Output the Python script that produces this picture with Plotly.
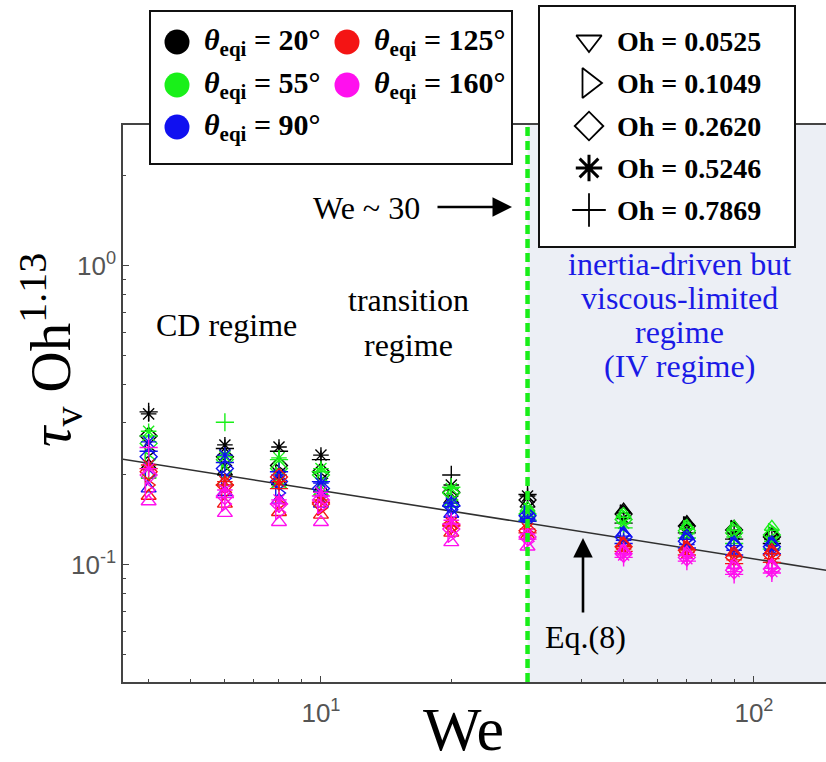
import math
import plotly.graph_objects as go

# ---------------- data ----------------
we = [4, 6, 8, 10, 20, 30, 50, 70, 90, 110]

theta_labels = ["20°", "55°", "90°", "125°", "160°"]
theta_colors = ["#000000", "#19f019", "#1010f0", "#f41414", "#ff10ee"]
oh_labels = ["0.0525", "0.1049", "0.2620", "0.5246", "0.7869"]

# tau_v * Oh^1.13, one list per (theta, Oh), values along `we`
t20_oh1 = [0.215, 0.205, 0.190, 0.180, 0.165, 0.160, 0.153, 0.139, 0.134, 0.128]
t20_oh2 = [0.240, 0.215, 0.205, 0.195, 0.170, 0.162, 0.150, 0.137, 0.133, 0.126]
t20_oh3 = [0.270, 0.230, 0.215, 0.205, 0.175, 0.165, 0.148, 0.135, 0.131, 0.124]
t20_oh4 = [0.320, 0.252, 0.248, 0.233, 0.185, 0.170, 0.143, 0.132, 0.127, 0.122]
t20_oh5 = [0.325, 0.245, 0.240, 0.225, 0.200, 0.172, 0.138, 0.128, 0.122, 0.118]

t55_oh1 = [0.200, 0.190, 0.185, 0.175, 0.160, 0.155, 0.148, 0.135, 0.134, 0.134]
t55_oh2 = [0.225, 0.205, 0.200, 0.190, 0.165, 0.152, 0.145, 0.133, 0.131, 0.130]
t55_oh3 = [0.255, 0.225, 0.210, 0.200, 0.174, 0.148, 0.142, 0.130, 0.128, 0.126]
t55_oh4 = [0.280, 0.230, 0.228, 0.210, 0.180, 0.145, 0.138, 0.127, 0.124, 0.120]
t55_oh5 = [0.270, 0.300, 0.225, 0.205, 0.182, 0.141, 0.133, 0.123, 0.118, 0.113]

t90_oh1 = [0.180, 0.175, 0.165, 0.160, 0.148, 0.145, 0.128, 0.125, 0.119, 0.119]
t90_oh2 = [0.200, 0.195, 0.174, 0.170, 0.153, 0.149, 0.126, 0.122, 0.117, 0.117]
t90_oh3 = [0.230, 0.210, 0.190, 0.180, 0.158, 0.146, 0.124, 0.120, 0.115, 0.115]
t90_oh4 = [0.258, 0.233, 0.200, 0.188, 0.161, 0.143, 0.121, 0.117, 0.112, 0.112]
t90_oh5 = [0.240, 0.220, 0.205, 0.190, 0.157, 0.140, 0.118, 0.114, 0.108, 0.109]

t125_oh1 = [0.170, 0.160, 0.150, 0.147, 0.128, 0.125, 0.118, 0.115, 0.110, 0.112]
t125_oh2 = [0.185, 0.175, 0.160, 0.155, 0.133, 0.128, 0.117, 0.114, 0.108, 0.110]
t125_oh3 = [0.205, 0.185, 0.197, 0.160, 0.136, 0.130, 0.115, 0.112, 0.106, 0.108]
t125_oh4 = [0.216, 0.190, 0.190, 0.165, 0.138, 0.132, 0.113, 0.110, 0.104, 0.105]
t125_oh5 = [0.210, 0.185, 0.180, 0.162, 0.135, 0.128, 0.111, 0.108, 0.101, 0.102]

t160_oh1 = [0.163, 0.149, 0.139, 0.139, 0.119, 0.115, 0.112, 0.110, 0.100, 0.100]
t160_oh2 = [0.178, 0.160, 0.150, 0.157, 0.126, 0.120, 0.110, 0.108, 0.098, 0.098]
t160_oh3 = [0.200, 0.170, 0.160, 0.165, 0.132, 0.124, 0.109, 0.106, 0.096, 0.097]
t160_oh4 = [0.210, 0.178, 0.165, 0.175, 0.141, 0.127, 0.108, 0.105, 0.095, 0.095]
t160_oh5 = [0.247, 0.168, 0.160, 0.170, 0.137, 0.122, 0.106, 0.103, 0.093, 0.094]

series = [
    [t20_oh1, t20_oh2, t20_oh3, t20_oh4, t20_oh5],
    [t55_oh1, t55_oh2, t55_oh3, t55_oh4, t55_oh5],
    [t90_oh1, t90_oh2, t90_oh3, t90_oh4, t90_oh5],
    [t125_oh1, t125_oh2, t125_oh3, t125_oh4, t125_oh5],
    [t160_oh1, t160_oh2, t160_oh3, t160_oh4, t160_oh5],
]

# Eq.(8) fit line end points
fit_we = [3.4, 150]
fit_val = [0.227, 0.0955]

we_threshold = 30

x_range = [3.49, 146.7]
y_range = [0.0406, 2.96]
x_ticks = [10, 100]
x_ticktext = ["10<sup>1</sup>", "10<sup>2</sup>"]
y_ticks = [0.1, 1]
y_ticktext = ["10<sup>-1</sup>", "10<sup>0</sup>"]
x_minor = [4, 5, 6, 7, 8, 9, 20, 30, 40, 50, 60, 70, 80, 90, 200]
y_minor = [0.05, 0.06, 0.07, 0.08, 0.09, 0.2, 0.3, 0.4, 0.5, 0.6, 0.7, 0.8, 0.9, 2]

# ---------------- figure ----------------
W, H = 826, 762
PL, PR, PT, PB = 123, 826, 125, 682   # plot area in pixels

data_symbols = ["triangle-up-open", "triangle-right-open", "diamond-open",
                "asterisk-open", "cross-thin-open"]
legend_symbols = ["triangle-down-open", "triangle-right-open", "diamond-open",
                  "asterisk-open", "cross-thin-open"]

fig = go.Figure()

# fit line
fig.add_trace(go.Scatter(x=fit_we, y=fit_val, mode="lines",
                         line=dict(color="#303030", width=1.6),
                         xaxis="x", yaxis="y", hoverinfo="skip"))

for ti, col in enumerate(theta_colors):
    for oi, sym in enumerate(data_symbols):
        fig.add_trace(go.Scatter(
            x=we, y=series[ti][oi], mode="markers",
            marker=dict(symbol=sym, size=13, color=col,
                        line=dict(color=col, width=1.4)),
            xaxis="x", yaxis="y"))

serif = "Liberation Serif, Times New Roman, serif"
sans = "Liberation Sans, Arial, sans-serif"

# ---- legend 1 (theta), drawn on pixel overlay axes ----
leg1_pos = [(177, 42), (177, 85), (177, 127), (347, 42), (347, 85)]
leg1_order = [0, 1, 2, 3, 4]
for k, ti in enumerate(leg1_order):
    px, py = leg1_pos[k]
    fig.add_trace(go.Scatter(x=[px], y=[py], mode="markers",
                             marker=dict(symbol="circle", size=25, color=theta_colors[ti]),
                             xaxis="x2", yaxis="y2", hoverinfo="skip"))
# ---- legend 2 (Oh) ----
leg2_y = [41, 83, 126, 168, 210]
leg2_sizes = [22, 26, 22, 22, 24]
for oi, sym in enumerate(legend_symbols):
    lw = 3.0 if sym.startswith("asterisk") else 1.8
    fig.add_trace(go.Scatter(x=[589], y=[leg2_y[oi]], mode="markers",
                             marker=dict(symbol=sym, size=leg2_sizes[oi], color="black",
                                         line=dict(color="black", width=lw)),
                             xaxis="x2", yaxis="y2", hoverinfo="skip"))

shapes = [
    # IV regime shading
    dict(type="rect", xref="x", yref="y domain", x0=we_threshold, x1=x_range[1],
         y0=0, y1=1, fillcolor="rgb(236,239,245)", line=dict(width=0), layer="below"),
    # We ~ 30 dashed line
    dict(type="line", xref="x", yref="y domain", x0=we_threshold, x1=we_threshold,
         y0=0, y1=1, line=dict(color="#19ee19", width=4.5, dash="9px,5px"), layer="above"),
    # legend boxes
    dict(type="rect", xref="x2", yref="y2", x0=150, x1=512, y0=11, y1=164,
         fillcolor="white", line=dict(color="#111", width=2), layer="below"),
    dict(type="rect", xref="x2", yref="y2", x0=539, x1=795, y0=6, y1=247,
         fillcolor="white", line=dict(color="#111", width=2), layer="below"),
]

annotations = []
def txt(x, y, text, size=28, color="black", xanchor="center", family=serif, **kw):
    annotations.append(dict(x=x, y=y, xref="x2", yref="y2", text=text, showarrow=False,
                            xanchor=xanchor, yanchor="middle",
                            font=dict(family=family, size=size, color=color), **kw))

for k, ti in enumerate(leg1_order):
    px, py = leg1_pos[k]
    txt(px + 25, py, "<b><i>θ</i><sub>eqi</sub> = " + theta_labels[ti] + "</b>",
        size=30, xanchor="left")
for oi in range(5):
    txt(615, leg2_y[oi], "<b>Oh = " + oh_labels[oi] + "</b>", size=28, xanchor="left")

txt(226, 325, "CD regime", size=32)
txt(408, 300, "transition", size=32)
txt(408, 345, "regime", size=32)
iv_lines = ["inertia-driven but", "viscous-limited", "regime", "(IV regime)"]
for i, line in enumerate(iv_lines):
    txt(679, 264 + 34 * i, line, size=32, color="#1a1ae6")
txt(366, 208, "We ~ 30", size=32)
txt(585, 637, "Eq.(8)", size=32)

# axis titles
txt(463, 729, "We", size=62)
annotations.append(dict(x=50, y=350, xref="x2", yref="y2",
                        text="<i>τ</i><sub>v</sub> Oh<sup>1.13</sup>", showarrow=False,
                        textangle=-90, xanchor="center", yanchor="middle",
                        font=dict(family=serif, size=57, color="black")))

# arrows
annotations.append(dict(x=512, y=207, ax=436, ay=207, xref="x2", yref="y2",
                        axref="x2", ayref="y2", text="", showarrow=True,
                        arrowhead=2, arrowsize=1.5, arrowwidth=2.6, arrowcolor="black"))
annotations.append(dict(x=583, y=538, ax=583, ay=614, xref="x2", yref="y2",
                        axref="x2", ayref="y2", text="", showarrow=True,
                        arrowhead=2, arrowsize=1.5, arrowwidth=2.6, arrowcolor="black"))

axis_common = dict(type="log", showline=True, linecolor="#444", linewidth=1.5,
                   ticks="inside", ticklen=6, tickcolor="#444", tickwidth=1,
                   showgrid=False, zeroline=False,
                   tickfont=dict(family=sans, size=26, color="#555"))

fig.update_layout(
    width=W, height=H, margin=dict(l=0, r=0, t=0, b=0),
    paper_bgcolor="white", plot_bgcolor="rgba(0,0,0,0)", showlegend=False,
    xaxis=dict(**axis_common,
               domain=[PL / W, PR / W],
               range=[math.log10(x_range[0]), math.log10(x_range[1])],
               tickvals=x_ticks, ticktext=x_ticktext, mirror=True,
               ticklabelstandoff=7,
               minor=dict(ticks="inside", ticklen=3, tickcolor="#444", tickvals=x_minor),
               anchor="y"),
    yaxis=dict(**axis_common,
               domain=[1 - PB / H, 1 - PT / H],
               range=[math.log10(y_range[0]), math.log10(y_range[1])],
               tickvals=y_ticks, ticktext=y_ticktext, mirror=False,
               ticklabelstandoff=0,
               minor=dict(ticks="inside", ticklen=3, tickcolor="#444", tickvals=y_minor),
               anchor="x"),
    xaxis2=dict(domain=[0, 1], range=[0, W], visible=False, anchor="y2", fixedrange=True),
    yaxis2=dict(domain=[0, 1], range=[H, 0], visible=False, anchor="x2", fixedrange=True),
    shapes=shapes, annotations=annotations,
)

fig.write_html("out.html")
